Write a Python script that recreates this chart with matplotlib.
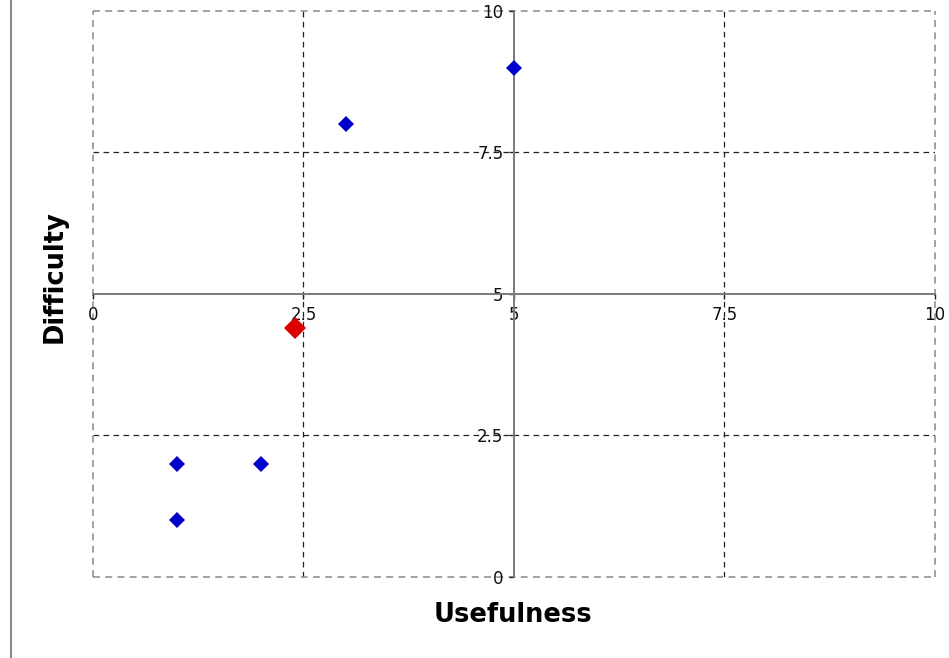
"""Usefulness vs difficulty scatter, Excel-style axes crossing at (5, 5)."""

import matplotlib

matplotlib.use("Agg")
import matplotlib.pyplot as plt
from matplotlib.lines import Line2D

usefulness = [1, 1, 2, 3, 5]
difficulty = [2, 1, 2, 8, 9]
mean_usefulness = [2.4]
mean_difficulty = [4.4]
ticks = [0, 2.5, 5, 7.5, 10]
tick_labels = ["0", "2.5", "5", "7.5", "10"]
inner_grid = [2.5, 7.5]
border = [0, 10]

plt.rcParams["font.family"] = ["DejaVu Sans"]

fig = plt.figure(figsize=(9.49, 6.58), dpi=100)
ax = fig.add_axes([0.098, 0.1231, 0.8872, 0.8602])

ax.set_xlim(0, 10)
ax.set_ylim(0, 10)
ax.set_xticks(ticks)
ax.set_xticklabels(tick_labels)
ax.set_yticks(ticks)
ax.set_yticklabels(tick_labels)

dash = (0, (4.5, 3.5))
for v in inner_grid:
    ax.axhline(v, color="#222222", linestyle=dash, linewidth=0.9, zorder=1)
    ax.axvline(v, color="#222222", linestyle=dash, linewidth=0.9, zorder=1)
for v in border:
    ax.axhline(v, color="#888888", linestyle=dash, linewidth=1.1, zorder=1, clip_on=False)
    ax.axvline(v, color="#888888", linestyle=dash, linewidth=1.1, zorder=1, clip_on=False)

for side in ("top", "right"):
    ax.spines[side].set_visible(False)
for side in ("left", "bottom"):
    ax.spines[side].set_position(("data", 5))
    ax.spines[side].set_color("#7a7a7a")
    ax.spines[side].set_linewidth(1.4)
    ax.spines[side].set_zorder(3)

ax.tick_params(axis="both", direction="out", length=3.6, width=1, color="#222222",
               labelsize=12, labelcolor="#111111")
ax.tick_params(axis="x", pad=5)
ax.tick_params(axis="y", pad=4)

ax.plot(usefulness, difficulty, linestyle="none", marker="D", markersize=8,
        color="#0000CC", markeredgewidth=0, zorder=4)
ax.plot(mean_usefulness, mean_difficulty, linestyle="none", marker="D", markersize=11.5,
        color="#DD0000", markeredgewidth=0, zorder=4)

fig.text(0.541, 0.065, "Usefulness", ha="center", va="center",
         fontsize=18.5, fontweight="bold")
fig.text(0.058, 0.579, "Difficulty", ha="center", va="center", rotation=90,
         fontsize=18.5, fontweight="bold")

fig.add_artist(Line2D([0.0116, 0.0116], [0, 1], color="#888888", linewidth=1.5,
                      transform=fig.transFigure))

fig.savefig("out.png", dpi=100)
